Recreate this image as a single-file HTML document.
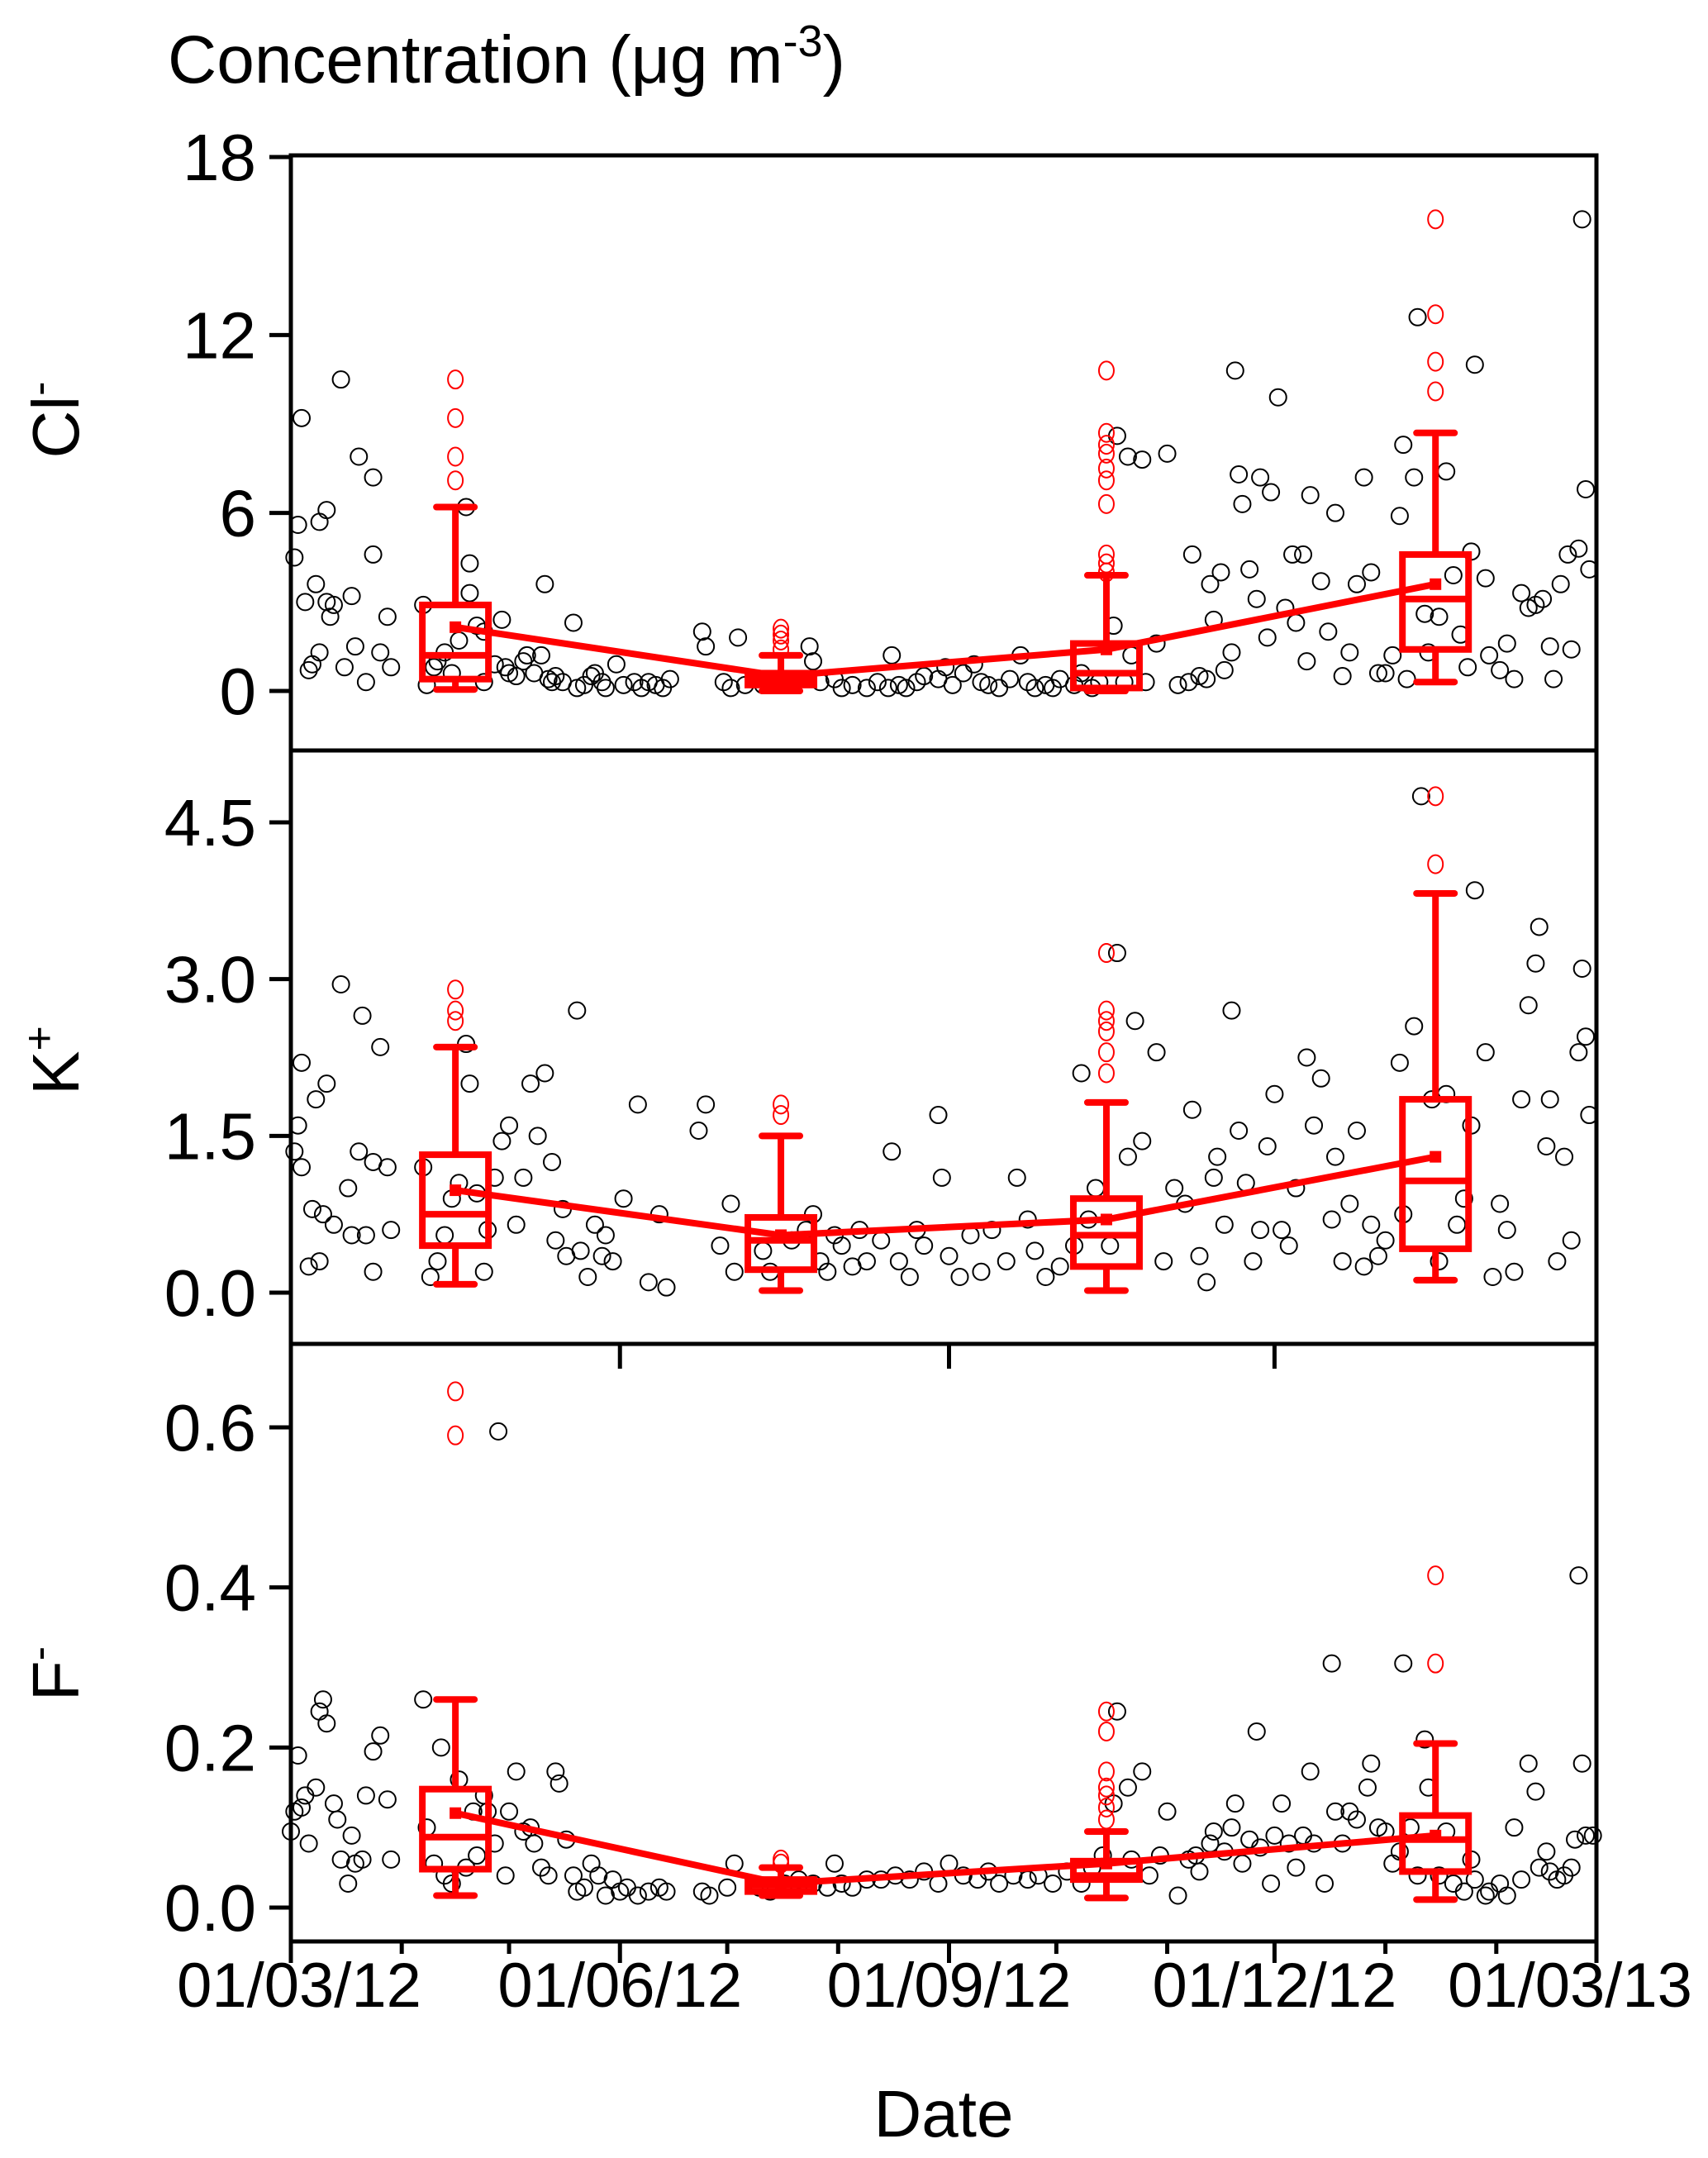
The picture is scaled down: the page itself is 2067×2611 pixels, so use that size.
<!DOCTYPE html>
<html><head><meta charset="utf-8"><style>
html,body{margin:0;padding:0;background:#fff;}
svg{display:block;font-family:"Liberation Sans",Arial,sans-serif;}
</style></head><body>
<svg id="chart" width="2067" height="2611" viewBox="0 0 2067 2611" xmlns="http://www.w3.org/2000/svg">
<text x="203" y="100" font-size="82" fill="#000">Concentration (μg m<tspan dy="-32" font-size="54">-3</tspan><tspan dy="32">)</tspan></text>
<text x="1142" y="2585" font-size="80" text-anchor="middle" fill="#000">Date</text>
<g id="layer"></g>
</svg>
<script>
// ---- data ----
const xTickLabels = ["01/03/12","01/06/12","01/09/12","01/12/12","01/03/13"];
const xTickDays = [0,92,184,275,365];
const minorTickDays = [31,61,122,153,214,245,306,337];
const boxDays = [46,137,228,320];

const clTicks = [0,6,12,18];
const clDays = [1,2,3,4,5,6,7,8,8,10,10,11,12,14,15,17,18,19,21,23,23,25,27,28,37,38,40,41,43,45,47,49,50,50,52,54,54,57,59,60,61,63,65,66,68,70,71,72,73,74,76,79,80,82,84,85,87,88,91,93,96,98,100,102,104,106,115,116,121,123,125,127,132,134,136,142,145,146,148,152,154,157,161,164,167,168,170,172,175,177,181,183,185,188,191,193,195,198,201,204,206,208,211,213,215,219,221,224,226,230,231,233,234,235,238,239,242,245,248,251,252,254,256,257,258,260,261,263,264,265,266,268,270,271,273,274,276,278,280,281,283,284,285,288,290,292,294,296,298,300,302,304,306,308,310,311,312,314,315,317,318,321,323,325,327,329,330,331,334,335,338,340,342,344,346,348,350,352,353,355,357,358,360,361,362,363];
const clVals = [4.5,5.6,9.2,3.0,0.7,0.9,3.6,5.7,1.3,3.0,6.1,2.5,2.9,10.5,0.8,3.2,1.5,7.9,0.3,4.6,7.2,1.3,2.5,0.8,2.9,0.2,0.8,1.0,1.3,0.6,1.7,6.2,3.3,4.3,2.2,0.3,2.0,0.9,2.4,0.8,0.6,0.5,1.0,1.2,0.6,1.2,3.6,0.4,0.3,0.5,0.3,2.3,0.1,0.2,0.5,0.6,0.3,0.1,0.9,0.2,0.3,0.1,0.3,0.2,0.1,0.4,2.0,1.5,0.3,0.1,1.8,0.2,0.2,0.3,0.2,0.4,1.5,1.0,0.3,0.4,0.1,0.2,0.1,0.3,0.1,1.2,0.2,0.1,0.3,0.5,0.4,0.8,0.2,0.6,0.9,0.3,0.2,0.1,0.4,1.2,0.3,0.1,0.2,0.1,0.4,0.2,0.6,0.1,0.3,2.2,8.6,0.3,7.9,1.2,7.8,0.3,1.6,8.0,0.2,0.3,4.6,0.5,0.4,3.6,2.4,4.0,0.7,1.3,10.8,7.3,6.3,4.1,3.1,7.2,1.8,6.7,9.9,2.8,4.6,2.3,4.6,1.0,6.6,3.7,2.0,6.0,0.5,1.3,3.6,7.2,4.0,0.6,0.6,1.2,5.9,8.3,0.4,7.2,12.6,2.6,1.3,2.5,7.4,3.9,1.9,0.8,4.7,11.0,3.8,1.2,0.7,1.6,0.4,3.3,2.8,2.9,3.1,1.5,0.4,3.6,4.6,1.4,4.8,15.9,6.8,4.1];
const clWLow=[0.05,0.0,0.0,0.3], clQ1=[0.4,0.2,0.1,1.4], clMed=[1.2,0.4,0.6,3.1], clQ3=[2.9,0.6,1.6,4.6], clWHigh=[6.2,1.2,3.9,8.7], clMean=[2.15,0.5,1.4,3.6];
const clOut=[[7.1,7.9,9.2,10.5],[1.4,1.7,1.9,2.1],[4.0,4.3,4.6,6.3,7.1,7.5,8.0,8.3,8.7,10.8],[10.1,11.1,12.7,15.9]];

const kTicks = [0,1.5,3.0,4.5];
const kDays = [1,2,3,3,5,6,7,8,9,10,12,14,16,17,19,20,21,23,23,25,27,28,37,39,41,43,45,47,49,50,52,54,55,57,59,61,63,65,67,69,71,73,74,76,77,80,81,83,85,87,88,90,93,97,100,103,105,114,116,120,123,124,132,134,140,144,146,148,150,152,154,157,159,161,165,168,170,173,175,177,181,182,184,187,190,193,196,200,203,206,208,211,215,219,221,223,225,229,231,234,236,238,242,244,247,250,252,254,256,258,259,261,263,265,267,269,271,273,275,277,279,281,284,286,288,291,292,294,296,298,300,302,304,306,310,311,314,316,319,321,323,326,328,330,331,334,336,338,340,342,344,346,348,349,351,352,354,356,358,360,361,362,363];
const kVals = [1.35,1.6,2.2,1.2,0.25,0.8,1.85,0.3,0.75,2.0,0.65,2.95,1.0,0.55,1.35,2.65,0.55,0.2,1.25,2.35,1.2,0.6,1.2,0.15,0.3,0.55,0.9,1.05,2.38,2.0,0.95,0.2,0.6,1.1,1.45,1.6,0.65,1.1,2.0,1.5,2.1,1.25,0.5,0.8,0.35,2.7,0.4,0.15,0.65,0.35,0.55,0.3,0.9,1.8,0.1,0.75,0.05,1.55,1.8,0.45,0.85,0.2,0.4,0.2,0.5,0.6,0.75,0.3,0.2,0.55,0.45,0.25,0.6,0.3,0.5,1.35,0.3,0.15,0.6,0.45,1.7,1.1,0.35,0.15,0.55,0.2,0.6,0.3,1.1,0.7,0.4,0.15,0.25,0.45,2.1,0.7,1.0,0.45,3.25,1.3,2.6,1.45,2.3,0.3,1.0,0.85,1.75,0.35,0.1,1.1,1.3,0.65,2.7,1.55,1.05,0.3,0.6,1.4,1.9,0.6,0.45,1.0,2.25,1.6,2.05,0.7,1.3,0.3,0.85,1.55,0.25,0.65,0.35,0.5,2.2,0.75,2.55,4.75,1.85,0.3,1.9,0.65,0.9,1.6,3.85,2.3,0.15,0.85,0.6,0.2,1.85,2.75,3.15,3.5,1.4,1.85,0.3,1.3,0.5,2.3,3.1,2.45,1.7];
const kWLow=[0.08,0.02,0.02,0.12], kQ1=[0.45,0.22,0.25,0.42], kMed=[0.75,0.5,0.55,1.07], kQ3=[1.32,0.72,0.9,1.85], kWHigh=[2.35,1.5,1.82,3.82], kMean=[0.98,0.55,0.7,1.3];
const kOut=[[2.6,2.7,2.9],[1.7,1.8],[2.1,2.3,2.5,2.6,2.7,3.25],[4.1,4.75]];

const fTicks = [0,0.2,0.4,0.6];
const fDays = [0,1,2,3,4,5,7,8,9,10,12,13,14,16,17,18,20,21,23,25,27,28,37,38,40,42,43,45,47,49,51,52,54,55,57,58,60,61,63,65,67,68,70,72,74,75,77,79,80,82,84,86,88,90,92,94,97,100,103,105,115,117,122,124,131,134,138,142,146,150,152,154,157,161,165,169,173,177,181,184,188,192,195,198,202,206,209,213,217,221,224,227,230,231,234,235,238,240,243,245,248,251,253,254,257,258,261,263,264,266,268,270,271,274,275,277,279,281,283,285,286,289,291,292,294,296,298,301,302,304,306,308,310,311,313,315,317,318,321,323,325,328,330,331,334,335,338,340,342,344,346,348,349,351,352,354,356,358,359,360,361,362,364];
const fVals = [0.095,0.12,0.19,0.125,0.14,0.08,0.15,0.245,0.26,0.23,0.13,0.11,0.06,0.03,0.09,0.055,0.06,0.14,0.195,0.215,0.135,0.06,0.26,0.1,0.055,0.2,0.04,0.03,0.16,0.05,0.12,0.065,0.14,0.12,0.08,0.595,0.04,0.12,0.17,0.095,0.1,0.08,0.05,0.04,0.17,0.155,0.085,0.04,0.02,0.025,0.055,0.04,0.015,0.035,0.02,0.025,0.015,0.02,0.025,0.02,0.02,0.015,0.025,0.055,0.025,0.02,0.03,0.035,0.03,0.025,0.055,0.03,0.025,0.035,0.035,0.04,0.035,0.045,0.03,0.055,0.04,0.035,0.045,0.03,0.04,0.035,0.04,0.03,0.045,0.03,0.05,0.065,0.13,0.245,0.15,0.06,0.17,0.04,0.065,0.12,0.015,0.06,0.065,0.045,0.08,0.095,0.07,0.1,0.13,0.055,0.085,0.22,0.075,0.03,0.09,0.13,0.08,0.05,0.09,0.17,0.08,0.03,0.305,0.12,0.08,0.12,0.11,0.15,0.18,0.1,0.095,0.055,0.07,0.305,0.1,0.04,0.21,0.15,0.04,0.095,0.03,0.02,0.06,0.035,0.015,0.02,0.03,0.015,0.1,0.035,0.18,0.145,0.05,0.07,0.045,0.035,0.04,0.05,0.085,0.415,0.18,0.09,0.09];
const fWLow=[0.015,0.015,0.012,0.01], fQ1=[0.048,0.02,0.035,0.045], fMed=[0.088,0.028,0.04,0.085], fQ3=[0.148,0.035,0.058,0.115], fWHigh=[0.26,0.05,0.095,0.205], fMean=[0.118,0.03,0.055,0.09];
const fOut=[[0.59,0.645],[0.055,0.06],[0.11,0.125,0.14,0.15,0.17,0.22,0.245],[0.305,0.415]];

// ---- drawing ----
const NS="http://www.w3.org/2000/svg";
const layer=document.getElementById('layer');
const L=352,R=1932;
function xS(d){return L+d/365*(R-L);}
function mk(tag,attrs,parent){const e=document.createElementNS(NS,tag);for(const k in attrs)e.setAttribute(k,attrs[k]);(parent||layer).appendChild(e);return e;}

const panels=[
 {key:'cl',top:188,bot:908,y0:836,y1:190,v1:18,ticks:clTicks,fmt:v=>String(v),label:'Cl',sup:'-',ly:508,days:clDays,vals:clVals,wl:clWLow,q1:clQ1,md:clMed,q3:clQ3,wh:clWHigh,mn:clMean,out:clOut},
 {key:'k',top:908,bot:1626,y0:1564,y1:995,v1:4.5,ticks:kTicks,fmt:v=>v.toFixed(1),label:'K',sup:'+',ly:1283,days:kDays,vals:kVals,wl:kWLow,q1:kQ1,md:kMed,q3:kQ3,wh:kWHigh,mn:kMean,out:kOut},
 {key:'f',top:1626,bot:2349,y0:2308,y1:1727,v1:0.6,ticks:fTicks,fmt:v=>v.toFixed(1),label:'F',sup:'-',ly:2025,days:fDays,vals:fVals,wl:fWLow,q1:fQ1,md:fMed,q3:fQ3,wh:fWHigh,mn:fMean,out:fOut}
];

panels.forEach((p,pi)=>{
  const y=v=>p.y0-(v/p.v1)*(p.y0-p.y1);
  const g=mk('g',{});
  
  
  p.days.forEach((d,i)=>{
    const c=mk('circle',{cx:xS(d),cy:y(p.vals[i]),r:10,fill:'none',stroke:'#000','stroke-width':2},g);
    
    
  });
  boxDays.forEach((d,b)=>{
    const cx=xS(d),hw=40,cap=23;
    const bg=mk('g',{stroke:'#ff0000','stroke-width':8,fill:'none'},g);
    
    
    mk('line',{x1:cx,x2:cx,y1:y(p.wh[b]),y2:y(p.q3[b])},bg);
    mk('line',{x1:cx,x2:cx,y1:y(p.q1[b]),y2:y(p.wl[b])},bg);
    mk('line',{x1:cx-cap,x2:cx+cap,y1:y(p.wh[b]),y2:y(p.wh[b]),'stroke-linecap':'round'},bg);
    mk('line',{x1:cx-cap,x2:cx+cap,y1:y(p.wl[b]),y2:y(p.wl[b]),'stroke-linecap':'round'},bg);
    mk('rect',{x:cx-hw,y:y(p.q3[b]),width:2*hw,height:Math.max(1,y(p.q1[b])-y(p.q3[b]))},bg);
    mk('line',{x1:cx-hw,x2:cx+hw,y1:y(p.md[b]),y2:y(p.md[b])},bg);
    const m=mk('rect',{x:cx-7,y:y(p.mn[b])-7,width:14,height:14,fill:'#ff0000',stroke:'none'},g);
    
    
    p.out[b].forEach(v=>{
      const o=mk('ellipse',{cx:cx,cy:y(v),rx:9,ry:11,fill:'none',stroke:'#ff0000','stroke-width':2},g);
      
      
    });
  });
  const pts=boxDays.map((d,b)=>xS(d)+','+y(p.mn[b])).join(' ');
  const ml=mk('polyline',{points:pts,fill:'none',stroke:'#ff0000','stroke-width':8},g);
  
  
  const fr=mk('rect',{x:L,y:p.top,width:R-L,height:p.bot-p.top,fill:'none',stroke:'#000','stroke-width':5});
  
  
  p.ticks.forEach(v=>{
    mk('line',{x1:L-26,x2:L,y1:y(v),y2:y(v),stroke:'#000','stroke-width':5});
    const t=mk('text',{x:310,y:y(v)+28,'font-size':80,'text-anchor':'end',fill:'#000'});
    t.textContent=p.fmt(v);
    
    
  });
  const yl=mk('text',{x:0,y:0,'font-size':80,'text-anchor':'middle',fill:'#000',transform:'translate(95,'+p.ly+') rotate(-90)'});
  yl.textContent=p.label;
  const sp=mk('tspan',{dy:-30,'font-size':52},yl);
  sp.textContent=p.sup;
  
  
});

xTickDays.slice(1,4).forEach(d=>{
  mk('line',{x1:xS(d),x2:xS(d),y1:1626,y2:1656,stroke:'#000','stroke-width':5});
});
xTickDays.forEach((d,i)=>{
  mk('line',{x1:xS(d),x2:xS(d),y1:2349,y2:2375,stroke:'#000','stroke-width':5});
  const lx=Math.min(1900,Math.max(362,xS(d)));
  const t=mk('text',{x:lx,y:2428,'font-size':76,'text-anchor':'middle',fill:'#000'});
  t.textContent=xTickLabels[i];
  
  
});
minorTickDays.forEach(d=>{
  mk('line',{x1:xS(d),x2:xS(d),y1:2349,y2:2364,stroke:'#000','stroke-width':5});
});
</script>
</body></html>
